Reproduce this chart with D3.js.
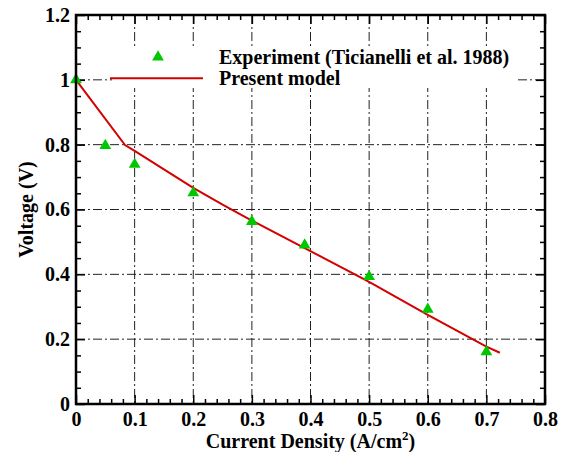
<!DOCTYPE html>
<html><head><meta charset="utf-8">
<script src="https://cdn.jsdelivr.net/npm/d3@7"></script>
<style>
body{margin:0;background:#fff;}
svg text{font-family:"Liberation Serif","Times New Roman",serif;font-weight:bold;fill:#000;}
</style></head>
<body><svg id="c" width="570" height="452"></svg>
<script>
const expX = [0, 0.05, 0.1, 0.2, 0.3, 0.39, 0.5, 0.6, 0.7];
const expV = [1.0, 0.797, 0.739, 0.651, 0.563, 0.49, 0.393, 0.292, 0.161];
const modelX = [0, 0.0836, 0.1, 0.15, 0.2, 0.25, 0.3, 0.39, 0.5, 0.6, 0.7, 0.723];
const modelV = [1.0, 0.799, 0.781, 0.724, 0.667, 0.615, 0.566, 0.481, 0.377, 0.275, 0.177, 0.158];
const xTicks = [0, 0.1, 0.2, 0.3, 0.4, 0.5, 0.6, 0.7, 0.8];
const yTicks = [0, 0.2, 0.4, 0.6, 0.8, 1.0, 1.2];
const legendLabels = ["Experiment (Ticianelli et al. 1988)", "Present model"];

const L = 76, T = 15, W = 469, H = 389;
const svg = d3.select("#c");
const g = svg.append("g").attr("transform", `translate(${L},${T})`);
const x = d3.scaleLinear().domain([0, 0.8]).range([0, W]);
const y = d3.scaleLinear().domain([0, 1.2]).range([H, 0]);

// grid
const dash = "9,3,2,3";
g.append("g").selectAll("line").data(xTicks.slice(1, -1)).join("line")
  .attr("x1", d => x(d)).attr("x2", d => x(d)).attr("y1", 0).attr("y2", H)
  .attr("stroke", "#222").attr("stroke-width", 1).attr("stroke-dasharray", dash);
g.append("g").selectAll("line").data(yTicks.slice(1, -1)).join("line")
  .attr("y1", d => y(d)).attr("y2", d => y(d)).attr("x1", 0).attr("x2", W)
  .attr("stroke", "#222").attr("stroke-width", 1).attr("stroke-dasharray", dash);

// minor tick values
const xMinor = d3.range(0, 0.8001, 0.02).filter(v => Math.abs(v*10 - Math.round(v*10)) > 1e-6);
const yMinor = d3.range(0, 1.2001, 0.05).filter(v => Math.abs(v*5 - Math.round(v*5)) > 1e-6);

function styleAxis(sel){ sel.select(".domain").remove(); sel.selectAll("line").attr("stroke","#000").attr("stroke-width",1.5); sel.selectAll("text").style("font-size","20px"); }

g.append("g").attr("transform", `translate(0,${H})`)
  .call(d3.axisBottom(x).tickValues(xTicks).tickFormat(d3.format("")).tickSize(-9).tickPadding(8)).call(styleAxis);
g.append("g").attr("transform", `translate(0,${H})`)
  .call(d3.axisBottom(x).tickValues(xMinor).tickFormat("").tickSize(-5)).call(styleAxis);
g.append("g").call(d3.axisTop(x).tickValues(xTicks).tickFormat("").tickSize(-9)).call(styleAxis);
g.append("g").call(d3.axisTop(x).tickValues(xMinor).tickFormat("").tickSize(-5)).call(styleAxis);
g.append("g")
  .call(d3.axisLeft(y).tickValues(yTicks).tickFormat(d3.format("")).tickSize(-9).tickPadding(6)).call(styleAxis);
g.append("g").call(d3.axisLeft(y).tickValues(yMinor).tickFormat("").tickSize(-5)).call(styleAxis);
g.append("g").attr("transform", `translate(${W},0)`)
  .call(d3.axisRight(y).tickValues(yTicks).tickFormat("").tickSize(-9)).call(styleAxis);
g.append("g").attr("transform", `translate(${W},0)`)
  .call(d3.axisRight(y).tickValues(yMinor).tickFormat("").tickSize(-5)).call(styleAxis);

// legend background
svg.append("rect").attr("x", 112).attr("y", 46).attr("width", 405).attr("height", 42).attr("fill", "#fff");

// model line
const model = modelX.map((d, i) => [d, modelV[i]]);
g.append("path").datum(model)
  .attr("d", d3.line().x(d => x(d[0])).y(d => y(d[1])))
  .attr("fill", "none").attr("stroke", "#d40000").attr("stroke-width", 2);

// experiment
const tri = d3.symbol().type(d3.symbolTriangle).size(60);
g.append("g").selectAll("path").data(expX.map((d, i) => [d, expV[i]])).join("path")
  .attr("d", tri).attr("transform", d => `translate(${x(d[0])},${y(d[1])})`)
  .attr("fill", "#00c800");

// frame
g.append("rect").attr("x", 0).attr("y", 0).attr("width", W).attr("height", H)
  .attr("fill", "none").attr("stroke", "#000").attr("stroke-width", 2.5);

// legend
svg.append("path").attr("d", tri).attr("transform", "translate(158,57)").attr("fill", "#00c800");
svg.append("line").attr("x1", 110).attr("x2", 203).attr("y1", 78.3).attr("y2", 78.3)
  .attr("stroke", "#d40000").attr("stroke-width", 2);
svg.append("text").attr("x", 219).attr("y", 64).style("font-size", "20px").text(legendLabels[0]);
svg.append("text").attr("x", 219).attr("y", 85).style("font-size", "20px").text(legendLabels[1]);

// axis titles
const xt = svg.append("text").attr("x", L + W/2).attr("y", 448).attr("text-anchor", "middle").style("font-size", "20px");
xt.append("tspan").text("Current Density (A/cm");
xt.append("tspan").attr("dy", -8).style("font-size", "13px").text("2");
xt.append("tspan").attr("dy", 8).text(")");
svg.append("text").attr("transform", `translate(33,${T + H/2}) rotate(-90)`).attr("text-anchor", "middle")
  .style("font-size", "20px").text("Voltage (V)");
</script></body></html>
